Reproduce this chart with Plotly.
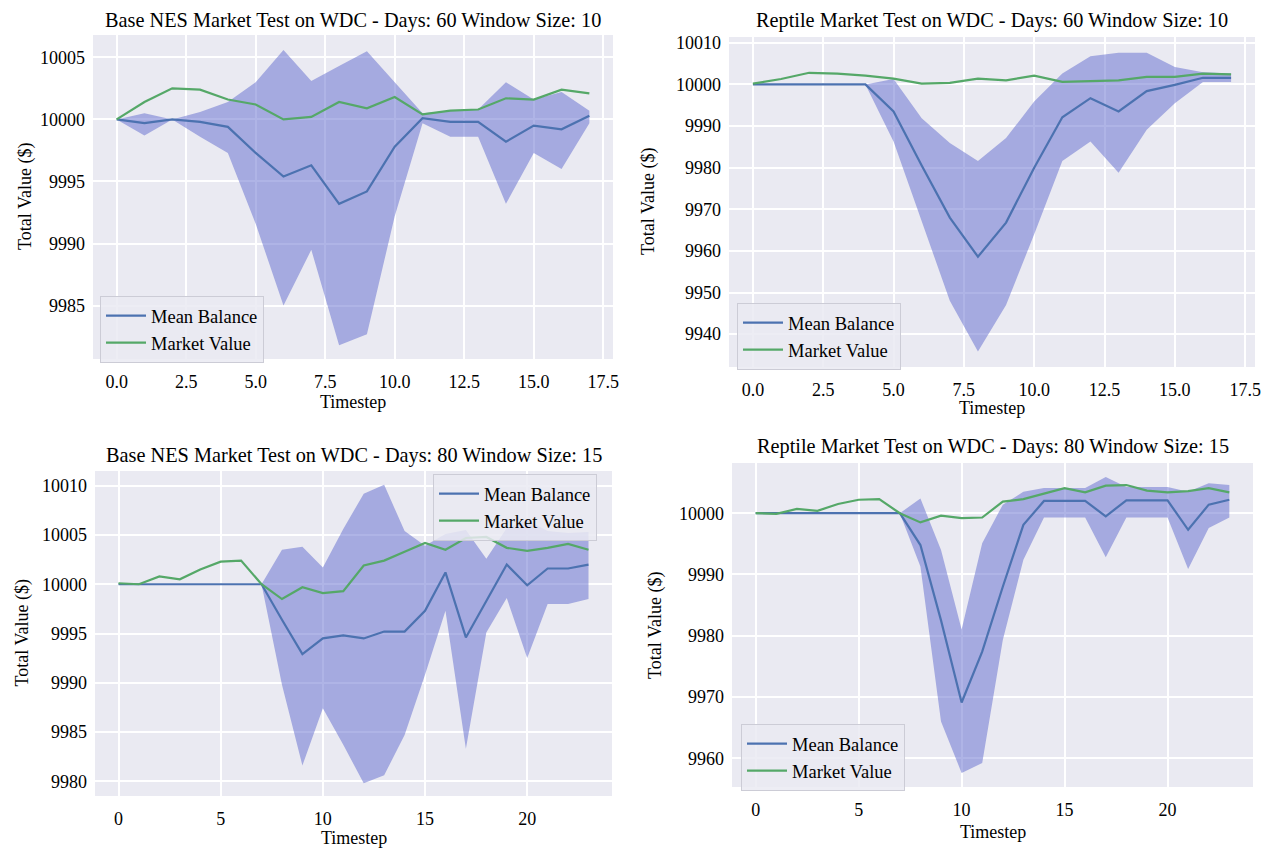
import plotly.graph_objects as go

# ---------------- data ----------------
t18 = list(range(18))
t24 = list(range(24))

# Panel 1: Base NES, Days 60, Window 10
p1_mean = [10000, 9999.7, 10000, 9999.8, 9999.4, 9997.3, 9995.4, 9996.3, 9993.2, 9994.2,
           9997.8, 10000.1, 9999.8, 9999.8, 9998.2, 9999.5, 9999.2, 10000.3]
p1_market = [10000, 10001.4, 10002.5, 10002.4, 10001.6, 10001.2, 10000.0, 10000.2, 10001.4, 10000.9,
             10001.8, 10000.4, 10000.7, 10000.8, 10001.7, 10001.6, 10002.4, 10002.1]
p1_upper = [10000, 10000.5, 10000, 10000.6, 10001.4, 10003.0, 10005.6, 10003.1, 10004.3, 10005.5,
            10003.0, 10000.5, 10000.7, 10000.8, 10003.0, 10001.6, 10002.2, 10000.7]
p1_lower = [10000, 9998.7, 10000, 9998.6, 9997.3, 9991.6, 9985.0, 9989.5, 9981.8, 9982.7,
            9992.2, 9999.7, 9998.6, 9998.6, 9993.2, 9997.3, 9996.0, 9999.7]

# Panel 2: Reptile, Days 60, Window 10
p2_mean = [10000, 10000, 10000, 10000, 10000, 9993.5, 9980.5, 9968.0, 9958.6, 9966.8,
           9980.0, 9992.1, 9996.7, 9993.5, 9998.4, 9999.9, 10001.6, 10001.6]
p2_market = [10000.2, 10001.3, 10002.8, 10002.6, 10002.1, 10001.4, 10000.2, 10000.4, 10001.4, 10001.0,
             10002.1, 10000.6, 10000.8, 10001.0, 10001.8, 10001.8, 10002.6, 10002.4]
p2_upper = [10000, 10000, 10000, 10000, 10000, 10001.3, 9991.9, 9985.9, 9981.6, 9987.1,
            9995.9, 10002.6, 10006.8, 10007.6, 10007.6, 10004.2, 10002.9, 10002.6]
p2_lower = [10000, 10000, 10000, 10000, 10000, 9986.3, 9967.0, 9948.0, 9935.8, 9947.0,
            9964.0, 9981.6, 9986.3, 9978.8, 9989.1, 9995.5, 10000.6, 10000.6]

# Panel 3: Base NES, Days 80, Window 15
p3_mean = [10000, 10000, 10000, 10000, 10000, 10000, 10000, 10000, 9996.4, 9992.9,
           9994.5, 9994.8, 9994.5, 9995.2, 9995.2, 9997.3, 10001.2, 9994.6, 9998.3, 10002.0,
           9999.9, 10001.6, 10001.6, 10002.0]
p3_market = [10000.1, 10000, 10000.8, 10000.5, 10001.5, 10002.3, 10002.4, 10000, 9998.5, 9999.7,
             9999.1, 9999.3, 10001.9, 10002.4, 10003.3, 10004.2, 10003.5, 10004.7, 10004.8, 10003.7,
             10003.4, 10003.7, 10004.1, 10003.5]
p3_upper = [10000, 10000, 10000, 10000, 10000, 10000, 10000, 10000, 10003.5, 10003.8,
            10001.7, 10005.6, 10009.2, 10010.1, 10005.4, 10003.9, 10005.1, 10005.5, 10002.6, 10005.7,
            10006.5, 10005.4, 10005.2, 10005.3]
p3_lower = [10000, 10000, 10000, 10000, 10000, 10000, 10000, 10000, 9989.8, 9981.6,
            9987.4, 9983.7, 9979.8, 9980.6, 9984.7, 9990.8, 9997.3, 9983.3, 9995.1, 9998.6,
            9992.5, 9998.0, 9998.0, 9998.5]

# Panel 4: Reptile, Days 80, Window 15
p4_mean = [10000, 10000, 10000, 10000, 10000, 10000, 10000, 10000, 9994.8, 9982.5,
           9969.1, 9977.4, 9988.0, 9998.1, 10002.0, 10002.0, 10002.0, 9999.5, 10002.1, 10002.1,
           10002.1, 9997.3, 10001.4, 10002.2]
p4_market = [10000, 9999.9, 10000.7, 10000.4, 10001.5, 10002.2, 10002.3, 10000, 9998.5, 9999.6,
             9999.2, 9999.3, 10001.9, 10002.3, 10003.2, 10004.1, 10003.4, 10004.5, 10004.6, 10003.7,
             10003.4, 10003.6, 10004.1, 10003.4]
p4_upper = [10000, 10000, 10000, 10000, 10000, 10000, 10000, 10000, 10002.4, 9994.0,
            9981.0, 9995.1, 10001.4, 10003.5, 10004.1, 10004.1, 10004.1, 10005.9, 10004.3, 10004.3,
            10004.3, 10003.5, 10004.9, 10004.6]
p4_lower = [10000, 10000, 10000, 10000, 10000, 10000, 10000, 10000, 9991.3, 9966.0,
            9957.6, 9959.2, 9979.3, 9992.4, 9999.3, 9999.3, 9999.3, 9992.8, 9999.3, 9999.3,
            9999.3, 9990.9, 9997.6, 9999.3]

titles = [
    "Base NES Market Test on WDC - Days: 60 Window Size: 10",
    "Reptile Market Test on WDC - Days: 60 Window Size: 10",
    "Base NES Market Test on WDC - Days: 80 Window Size: 15",
    "Reptile Market Test on WDC - Days: 80 Window Size: 15",
]

xticks_a = [0, 2.5, 5, 7.5, 10, 12.5, 15, 17.5]
xticklabels_a = ["0.0", "2.5", "5.0", "7.5", "10.0", "12.5", "15.0", "17.5"]
xticks_b = [0, 5, 10, 15, 20]
xticklabels_b = ["0", "5", "10", "15", "20"]
yticks_1 = [9985, 9990, 9995, 10000, 10005]
yticks_2 = [9940, 9950, 9960, 9970, 9980, 9990, 10000, 10010]
yticks_3 = [9980, 9985, 9990, 9995, 10000, 10005, 10010]
yticks_4 = [9960, 9970, 9980, 9990, 10000]

# ---------------- style ----------------
OFF = 8  # page body margin offset
W, H = 1269 - OFF, 849 - OFF
FONT = "Liberation Serif, Times New Roman, serif"
BG = "#EAEAF2"
BLUE = "#4C72B0"
GREEN = "#55A868"
BAND = "rgba(95,105,205,0.5)"

# pixel boxes in screen coords: (left, right, top, bottom)
boxes = [(93, 613, 35, 359), (729, 1255, 37, 367), (95, 612, 471, 796), (732, 1253, 463, 787)]
xranges = [[-0.85, 17.85], [-0.85, 17.85], [-1.15, 24.15], [-1.15, 24.15]]
yranges = [[9980.7, 10006.8], [9932.1, 10011.4], [9978.5, 10011.5], [9955.3, 10008.2]]
xticks = [xticks_a, xticks_a, xticks_b, xticks_b]
xticktext = [xticklabels_a, xticklabels_a, xticklabels_b, xticklabels_b]
yticks = [yticks_1, yticks_2, yticks_3, yticks_4]
legpos = [(100, 296), (737, 303), (433, 474), (741, 724)]
title_y = [20, 20, 455, 446]
xtitle_y = [402, 408, 838, 832]
ytitle_x = [25, 648, 22, 655]

series = [
    (t18, p1_mean, p1_market, p1_upper, p1_lower),
    (t18, p2_mean, p2_market, p2_upper, p2_lower),
    (t24, p3_mean, p3_market, p3_upper, p3_lower),
    (t24, p4_mean, p4_market, p4_upper, p4_lower),
]


def px(x):
    return (x - OFF) / W


def py(y):
    return 1 - (y - OFF) / H


fig = go.Figure()
layout = dict(
    width=W, height=H,
    margin=dict(l=0, r=0, t=0, b=0, autoexpand=False),
    paper_bgcolor="white", plot_bgcolor=BG,
    font=dict(family=FONT, size=18, color="black"),
    showlegend=True,
)
annotations = []

for i, (t, mean, market, upper, lower) in enumerate(series):
    n = i + 1
    xa = "x" if n == 1 else f"x{n}"
    ya = "y" if n == 1 else f"y{n}"
    lg = "legend" if n == 1 else f"legend{n}"
    fig.add_trace(go.Scatter(x=t, y=lower, mode="lines", line=dict(width=0, color=BAND),
                             showlegend=False, hoverinfo="skip", xaxis=xa, yaxis=ya))
    fig.add_trace(go.Scatter(x=t, y=upper, mode="lines", line=dict(width=0, color=BAND),
                             fill="tonexty", fillcolor=BAND,
                             showlegend=False, hoverinfo="skip", xaxis=xa, yaxis=ya))
    fig.add_trace(go.Scatter(x=t, y=mean, mode="lines", name="Mean Balance",
                             line=dict(color=BLUE, width=2.2), xaxis=xa, yaxis=ya, legend=lg))
    fig.add_trace(go.Scatter(x=t, y=market, mode="lines", name="Market Value",
                             line=dict(color=GREEN, width=2.2), xaxis=xa, yaxis=ya, legend=lg))

    l, r, tp, bt = boxes[i]
    kx = "xaxis" if n == 1 else f"xaxis{n}"
    ky = "yaxis" if n == 1 else f"yaxis{n}"
    layout[kx] = dict(domain=[px(l), px(r)], range=xranges[i], anchor=ya, tickvals=xticks[i],
                      ticktext=xticktext[i], showgrid=True, gridcolor="white", gridwidth=1.6,
                      zeroline=False, showline=False, ticks="", ticklabelstandoff=10,
                      automargin=False, tickfont=dict(size=18, family=FONT))
    layout[ky] = dict(domain=[py(bt), py(tp)], range=yranges[i], anchor=xa, tickvals=yticks[i],
                      ticktext=[str(v) for v in yticks[i]],
                      showgrid=True, gridcolor="white", gridwidth=1.6,
                      zeroline=False, showline=False, ticks="", ticklabelstandoff=7,
                      automargin=False, tickfont=dict(size=18, family=FONT))
    lx, ly = legpos[i]
    layout[lg] = dict(x=px(lx), y=py(ly), xanchor="left", yanchor="top",
                      bgcolor="rgba(234,234,242,0.85)", bordercolor="#CCCCD6", borderwidth=1,
                      font=dict(size=18.5, family=FONT), tracegroupgap=0, itemwidth=40,
                      traceorder="normal")
    annotations.append(dict(text=titles[i], x=px((l + r) / 2), y=py(title_y[i]),
                            xref="paper", yref="paper", showarrow=False,
                            font=dict(size=20.3, family=FONT), xanchor="center", yanchor="middle"))
    annotations.append(dict(text="Timestep", x=px((l + r) / 2), y=py(xtitle_y[i]),
                            xref="paper", yref="paper", showarrow=False,
                            font=dict(size=18, family=FONT), xanchor="center", yanchor="middle"))
    annotations.append(dict(text="Total Value ($)", x=px(ytitle_x[i]), y=py((tp + bt) / 2),
                            xref="paper", yref="paper", showarrow=False, textangle=-90,
                            font=dict(size=18, family=FONT), xanchor="center", yanchor="middle"))

layout["annotations"] = annotations
fig.update_layout(**layout)
fig.write_html("out.html")
